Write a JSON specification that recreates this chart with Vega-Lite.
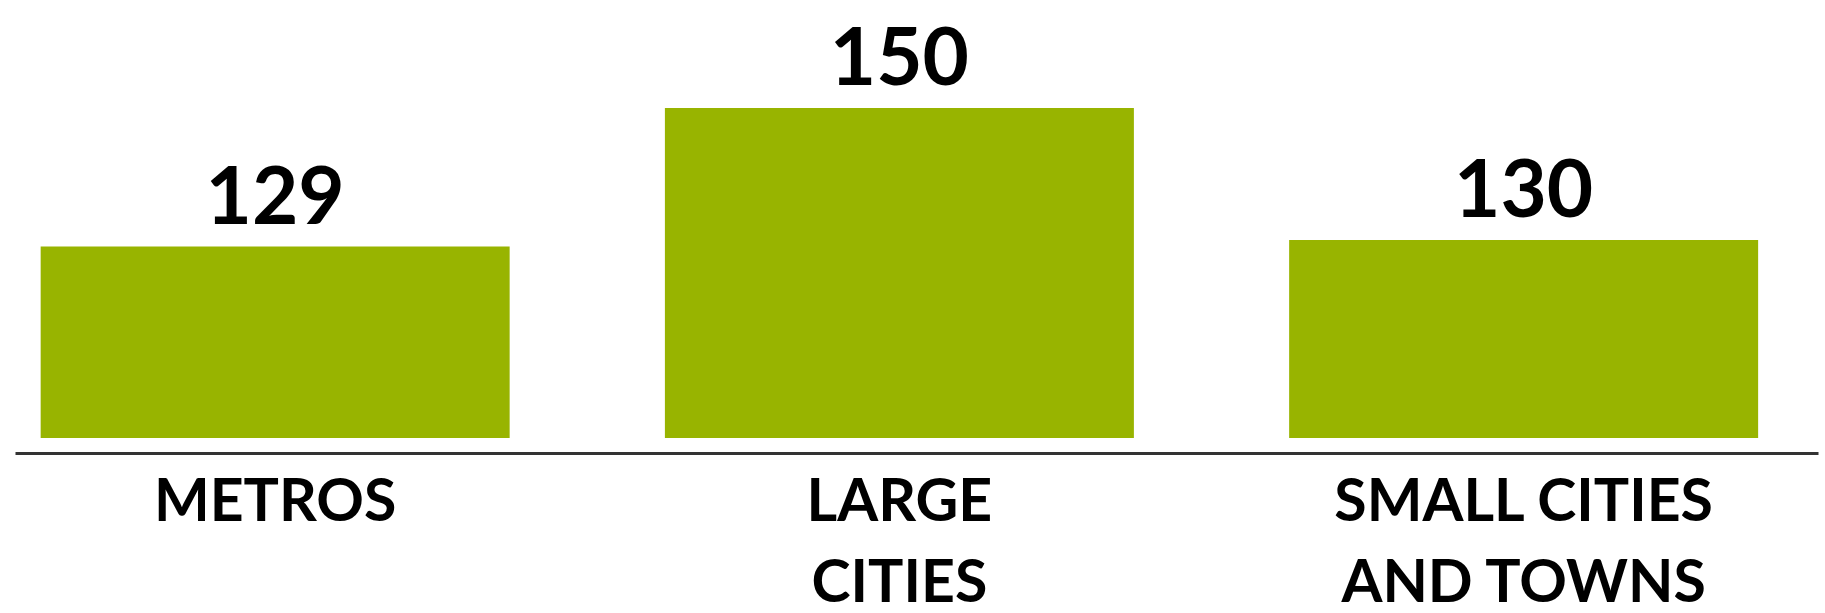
{
  "$schema": "https://vega.github.io/schema/vega-lite/v6.json",
  "autosize": {"type": "none"},
  "width": 1803,
  "height": 438,
  "padding": {"left": 15, "top": 0, "right": 7, "bottom": 175},
  "background": "white",
  "config": {"view": {"stroke": null}},
  "data": {
    "values": [
      {"category": "METROS", "value": 129},
      {"category": "LARGE CITIES", "value": 150},
      {"category": "SMALL CITIES AND TOWNS", "value": 130}
    ]
  },
  "encoding": {
    "x": {
      "field": "category",
      "type": "nominal",
      "sort": null,
      "scale": {"paddingInner": 0.2487, "paddingOuter": 0.0685, "align": 0.3},
      "axis": {
        "title": null,
        "orient": "bottom",
        "offset": 15,
        "domainColor": "#333333",
        "domainWidth": 3,
        "ticks": false,
        "labelAngle": 0,
        "labelFont": "Lato",
        "labelFontWeight": "bold",
        "labelFontSize": 59,
        "labelColor": "#000000",
        "labelPadding": 20,
        "labelLineHeight": 81,
        "labelLimit": 0,
        "labelOverlap": false,
        "labelExpr": "datum.label == 'LARGE CITIES' ? ['LARGE', 'CITIES'] : datum.label == 'SMALL CITIES AND TOWNS' ? ['SMALL CITIES', 'AND TOWNS'] : datum.label"
      }
    },
    "y": {
      "field": "value",
      "type": "quantitative",
      "scale": {"domain": [100, 166.36], "zero": false, "nice": false},
      "axis": null
    }
  },
  "layer": [
    {"mark": {"type": "bar", "color": "#98B400"}, "encoding": {"y2": {"datum": 100}}},
    {
      "mark": {"type": "text", "font": "Lato", "fontWeight": "bold", "fontSize": 80, "baseline": "alphabetic", "dy": -23, "color": "#000000"},
      "encoding": {"text": {"field": "value", "type": "quantitative"}}
    }
  ]
}
